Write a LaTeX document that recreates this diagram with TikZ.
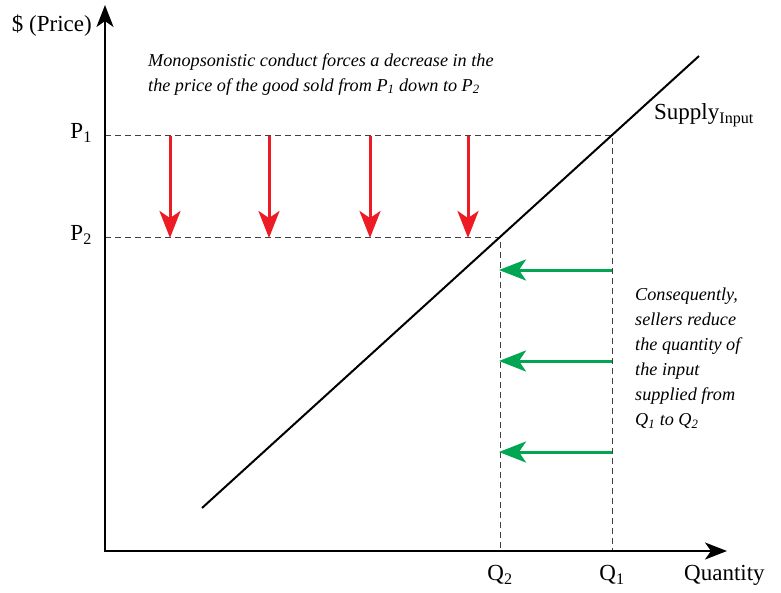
\documentclass[tikz,border=0pt]{standalone}
\usepackage{fontspec}
\setmainfont{Liberation Serif}
\usetikzlibrary{arrows.meta}
\definecolor{redarr}{HTML}{ED1C24}
\definecolor{greenarr}{HTML}{00A651}
\tikzset{
  axis/.style={line width=2.4pt, -{Stealth[length=22pt,width=17pt,inset=6pt]}},
  guide/.style={line width=0.9pt, dash pattern=on 6pt off 4pt, black!75},
  downarr/.style={line width=3pt, redarr, -{Stealth[length=27pt,width=21pt,inset=7pt]}},
  leftarr/.style={line width=3pt, greenarr, -{Stealth[length=27pt,width=21pt,inset=7pt]}},
  lab/.style={font=\fontsize{23}{26}\selectfont, inner sep=0pt},
  note/.style={font=\itshape\fontsize{18.2}{25}\selectfont, inner sep=0pt, align=left}
}
\begin{document}
\begin{tikzpicture}[x=1pt,y=-1pt]
\useasboundingbox (0,0) rectangle (781,592);
% coordinates
\coordinate (O) at (105,551);
\coordinate (ytop) at (105,5);
\coordinate (xend) at (727,551);
\coordinate (P1) at (105,135);
\coordinate (P2) at (105,237);
\coordinate (E1) at (612,135);
\coordinate (E2) at (500,237);
\coordinate (Q1) at (612,551);
\coordinate (Q2) at (500,551);
\coordinate (S0) at (202,508);
\coordinate (S1) at (699,56);
% guides
\draw[guide] (P1) -- (E1) -- (Q1);
\draw[guide] (P2) -- (E2) -- (Q2);
% supply
\draw[line width=2pt] (S0) -- (S1);
% axes
\draw[axis] (O) -- (ytop);
\draw[axis] ([xshift=-1.2pt]O) -- (xend);
% red arrows
\foreach \x/\n in {170/a,269/b,370/c,468/d}{
  \coordinate (r\n1) at (\x,136);
  \coordinate (r\n2) at (\x,238);
  \draw[downarr] (r\n1) -- (r\n2);
}
% green arrows
\foreach \y/\n in {270/a,361/b,452/c}{
  \coordinate (g\n1) at (612,\y);
  \coordinate (g\n2) at (499,\y);
  \draw[leftarr] (g\n1) -- (g\n2);
}
% labels
\node[lab, anchor=east] (price) at (92,26) {\$ (Price)};
\node[lab, anchor=east] (p1lab) at (92,133) {P\textsubscript{1}};
\node[lab, anchor=east] (p2lab) at (92,235) {P\textsubscript{2}};
\node[lab, anchor=north] (q2lab) at (500,565) {Q\textsubscript{2}};
\node[lab, anchor=north] (q1lab) at (612,565) {Q\textsubscript{1}};
\node[lab, anchor=north west] (qlab) at (684,565) {Quantity};
\node[lab, anchor=west] (slab) at (654,115) {Supply\textsubscript{Input}};
\node[note, anchor=north west] (top) at (148,53) {Monopsonistic conduct forces a decrease in the\\the price of the good sold from P\textsubscript{1} down to P\textsubscript{2}};
\node[note, anchor=north west] (right) at (635,288) {Consequently,\\sellers reduce\\the quantity of\\the input\\supplied from\\Q\textsubscript{1} to Q\textsubscript{2}};
\end{tikzpicture}
\end{document}
